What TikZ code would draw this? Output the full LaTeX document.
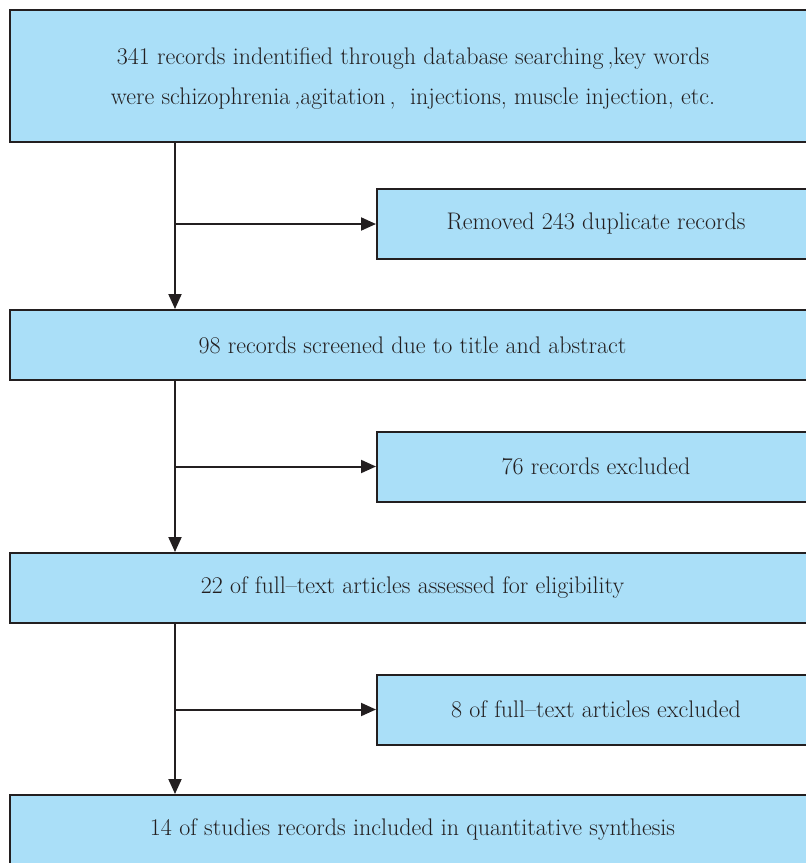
\documentclass[tikz,border=0pt]{standalone}
\usepackage{tikz}
\usetikzlibrary{arrows.meta,calc}
\definecolor{flowfill}{RGB}{170,223,248}
\definecolor{flowline}{RGB}{35,31,32}
\tikzset{
 flow main/.style={rectangle,draw=flowline,fill=flowfill,line width=2pt,
                   minimum width=805pt,minimum height=70pt,inner sep=0pt,
                   font=\fontsize{24}{40}\selectfont,text=flowline,align=center},
 flow side/.style={flow main,minimum width=438pt},
 flow arrow/.style={-{Triangle[length=15pt,width=13pt]},line width=2pt,draw=flowline}
}
\begin{document}
\begin{tikzpicture}[x=1pt,y=-1pt]
 \useasboundingbox (0,0) rectangle (806,863);
 \clip (0,0) rectangle (806,863);
 \coordinate (trunk) at (175,0);

 \node[flow main,minimum height=132pt] (ident) at (412.5,76) {};
 \node[text=flowline,font=\fontsize{24}{40}\selectfont,align=center] (identtxt) at (413,79)
   {341 records indentified through database searching\,,key words\\
    were schizophrenia\,,agitation\,,~ injections, muscle injection, etc.};
 \node[flow side] (dupl) at (596,224) {Removed 243 duplicate records};
 \node[flow main] (screen) at (412.5,345) {98 records screened due to title and abstract};
 \node[flow side] (excl) at (596,466.5) {76 records excluded};
 \node[flow main] (elig) at (412.5,588) {22 of full\textendash text articles assessed for eligibility};
 \node[flow side] (ftexcl) at (596,709.5) {8 of full\textendash text articles excluded};
 \node[flow main] (incl) at (412.5,830) {14 of studies records included in quantitative synthesis};

 \draw[flow arrow] (ident.south -| trunk) -- (screen.north -| trunk);
 \draw[flow arrow] (screen.south -| trunk) -- (elig.north -| trunk);
 \draw[flow arrow] (elig.south -| trunk) -- (incl.north -| trunk);
 \draw[flow arrow] (dupl.west -| trunk) -- (dupl.west);
 \draw[flow arrow] (excl.west -| trunk) -- (excl.west);
 \draw[flow arrow] (ftexcl.west -| trunk) -- (ftexcl.west);
\end{tikzpicture}
\end{document}
